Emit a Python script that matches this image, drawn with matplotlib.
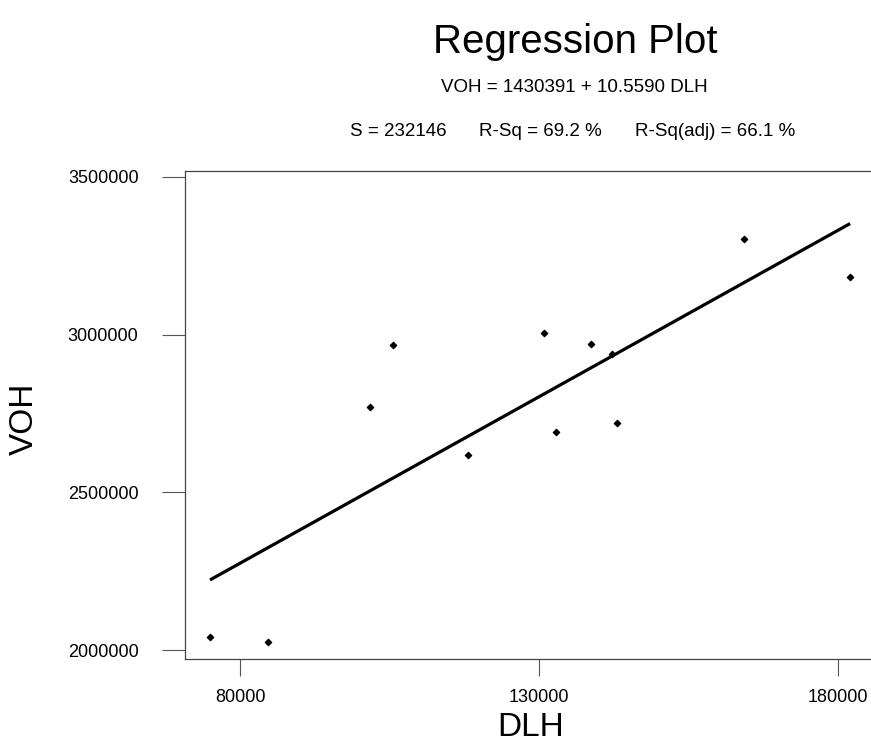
import numpy as np
import matplotlib
matplotlib.use('Agg')
import matplotlib.pyplot as plt

plt.rcParams['font.family'] = ['Liberation Sans', 'DejaVu Sans']

# data
dlh = [74984, 84682, 101736, 105582, 118122, 130829, 132835, 138687, 142198, 143034, 164269, 181992]
voh = [2041200, 2025400, 2770400, 2968300, 2618300, 3006300, 2691200, 2971400, 2939700, 2719700, 3303100, 3182600]
intercept = 1430391
slope = 10.5590
x_ticks = [80000, 130000, 180000]
y_ticks = [2000000, 2500000, 3000000, 3500000]

W, H = 871, 743
fig = plt.figure(figsize=(W / 100, H / 100), dpi=100)

# axes runs past the right edge, like the cropped original
ax = fig.add_axes([185 / W, 1 - 659 / H, (898 - 185) / W, (659 - 171) / H])
ax.set_xlim(70803, 190000)
ax.set_ylim(1971500, 3518700)

ax.scatter(dlh, voh, marker='D', s=10, color='black', zorder=3)
xs = np.array([min(dlh), max(dlh)])
ax.plot(xs, intercept + slope * xs, color='black', lw=2.3, solid_capstyle='butt')

ax.set_xticks(x_ticks)
ax.set_yticks(y_ticks)
ax.set_xticklabels([str(v) for v in x_ticks], fontsize=13)
ax.set_yticklabels([str(v) for v in y_ticks], fontsize=13)
ax.tick_params(axis='x', length=12.5, width=0.8, color='#555', pad=9)
ax.tick_params(axis='y', length=16.5, width=0.8, color='#555', pad=17)
for s in ax.spines.values():
    s.set_linewidth(0.9)
    s.set_color('#444')

fig.text(575 / W, 1 - 42 / H, 'Regression Plot', fontsize=29, ha='center', va='center')
fig.text(574 / W, 1 - 87 / H, 'VOH = 1430391 + 10.5590 DLH', fontsize=13.5, ha='center', va='center')
fig.text(350 / W, 1 - 132 / H, 'S = 232146', fontsize=13.5, ha='left', va='center')
fig.text(479 / W, 1 - 132 / H, 'R-Sq = 69.2 %', fontsize=13.5, ha='left', va='center')
fig.text(635 / W, 1 - 132 / H, 'R-Sq(adj) = 66.1 %', fontsize=13.5, ha='left', va='center')

fig.text(24 / W, 1 - 419 / H, 'VOH', fontsize=24, rotation=90, ha='center', va='center')
fig.text(531 / W, 1 - 727 / H, 'DLH', fontsize=24, ha='center', va='center')

fig.savefig('out.png', dpi=100)
